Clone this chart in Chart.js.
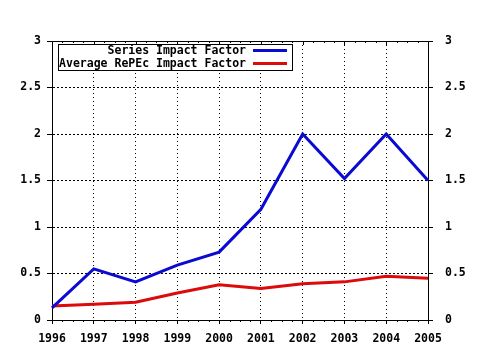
<!DOCTYPE html>
<html>
<head>
<meta charset="utf-8">
<script src="https://cdn.jsdelivr.net/npm/chart.js@4"></script>
<style>
  html, body { margin: 0; padding: 0; background: #fff; }
  #wrap { width: 480px; height: 350px; }
</style>
</head>
<body>
<div id="wrap"><canvas id="myChart" width="480" height="350"></canvas></div>
<script>
// chart data
const years = ["1996", "1997", "1998", "1999", "2000", "2001", "2002", "2003", "2004", "2005"];
const seriesImpact = [0.13, 0.55, 0.41, 0.59, 0.73, 1.19, 2.0, 1.52, 2.0, 1.5];
const repecImpact = [0.15, 0.17, 0.19, 0.29, 0.38, 0.34, 0.39, 0.41, 0.47, 0.45];
const yTicks = [0, 0.5, 1, 1.5, 2, 2.5, 3];

const FONT = "'DejaVu Sans Mono', monospace";

Chart.defaults.font.family = FONT;
Chart.defaults.font.size = 11.5;
Chart.defaults.font.weight = "bold";
Chart.defaults.color = "#000";

function fmt(v) {
  return String(v);
}

// frame on top + small ticks between the years
const framePlugin = {
  id: "frame",
  afterDraw(chart) {
    const ctx = chart.ctx;
    const area = chart.chartArea;
    const x = chart.scales.x;
    ctx.save();
    ctx.strokeStyle = "#000";
    ctx.lineWidth = 1;
    ctx.beginPath();
    ctx.moveTo(area.left, area.top + 0.5);
    ctx.lineTo(area.right, area.top + 0.5);
    for (let i = 0; i <= (years.length - 1) * 4; i++) {
      const px = Math.round(x.getPixelForValue(i / 4)) + 0.5;
      const major = i % 4 === 0;
      ctx.moveTo(px, area.top);
      ctx.lineTo(px, area.top + (major ? 4 : 2));
      if (!major) {
        ctx.moveTo(px, area.bottom);
        ctx.lineTo(px, area.bottom + 2);
      }
    }
    ctx.stroke();
    ctx.restore();
  },
};

// legend box, text right aligned with the line sample after it
const legendPlugin = {
  id: "boxLegend",
  afterDraw(chart) {
    const ctx = chart.ctx;
    const sets = chart.data.datasets;
    ctx.save();
    ctx.fillStyle = "#fff";
    ctx.fillRect(58, 44, 235, 27);
    ctx.strokeStyle = "#000";
    ctx.lineWidth = 1;
    ctx.strokeRect(58.5, 44.5, 234, 26);
    ctx.font = "bold 11.5px " + FONT;
    ctx.textAlign = "right";
    ctx.textBaseline = "middle";
    sets.forEach((ds, i) => {
      const y = 51.5 + i * 13;
      ctx.fillStyle = "#000";
      ctx.fillText(ds.label, 246, y);
      ctx.strokeStyle = ds.borderColor;
      ctx.lineWidth = 3;
      ctx.beginPath();
      ctx.moveTo(253, y - 1);
      ctx.lineTo(287, y - 1);
      ctx.stroke();
    });
    ctx.restore();
  },
};

const ctx = document.getElementById("myChart").getContext("2d");

const myChart = new Chart(ctx, {
  type: "line",
  data: {
    labels: years,
    datasets: [
      {
        label: "Series Impact Factor",
        data: seriesImpact,
        borderColor: "#0a0ad2",
        backgroundColor: "#0a0ad2",
        borderWidth: 3,
        pointRadius: 0,
        tension: 0,
      },
      {
        label: "Average RePEc Impact Factor",
        data: repecImpact,
        borderColor: "#dc0a0a",
        backgroundColor: "#dc0a0a",
        borderWidth: 3,
        pointRadius: 0,
        tension: 0,
      },
    ],
  },
  options: {
    responsive: false,
    animation: false,
    layout: { padding: { top: 41, left: 0, right: 0, bottom: 0 } },
    plugins: {
      legend: { display: false },
      tooltip: { enabled: false },
    },
    scales: {
      x: {
        type: "category",
        offset: false,
        afterFit: (scale) => {
          scale.height = 30;
        },
        grid: {
          color: (c) =>
            c.index === 0 || c.index === years.length - 1 ? "rgba(0,0,0,0)" : "#000",
          tickColor: "#000",
          tickLength: 4,
          lineWidth: 1,
        },
        border: { display: true, color: "#000", width: 1, dash: [1, 3] },
        ticks: { padding: 8, maxRotation: 0, autoSkip: false },
      },
      y: {
        position: "left",
        min: 0,
        max: 3,
        afterFit: (scale) => {
          scale.width = 52;
        },
        afterBuildTicks: (scale) => {
          scale.ticks = yTicks.map((v) => ({ value: v }));
        },
        grid: {
          color: (c) =>
            c.tick && (c.tick.value === 0 || c.tick.value === 3) ? "rgba(0,0,0,0)" : "#000",
          tickColor: "#000",
          tickLength: 5,
          lineWidth: 1,
        },
        border: { display: true, color: "#000", width: 1, dash: [2, 2] },
        ticks: { padding: 6, callback: (v) => fmt(v) },
      },
      y2: {
        position: "right",
        min: 0,
        max: 3,
        afterFit: (scale) => {
          scale.width = 52;
        },
        afterBuildTicks: (scale) => {
          scale.ticks = yTicks.map((v) => ({ value: v }));
        },
        grid: {
          drawOnChartArea: false,
          tickColor: "#000",
          tickLength: 5,
        },
        border: { display: true, color: "#000", width: 1 },
        ticks: { padding: 12, callback: (v) => fmt(v) },
      },
    },
  },
  plugins: [framePlugin, legendPlugin],
});
</script>
</body>
</html>
